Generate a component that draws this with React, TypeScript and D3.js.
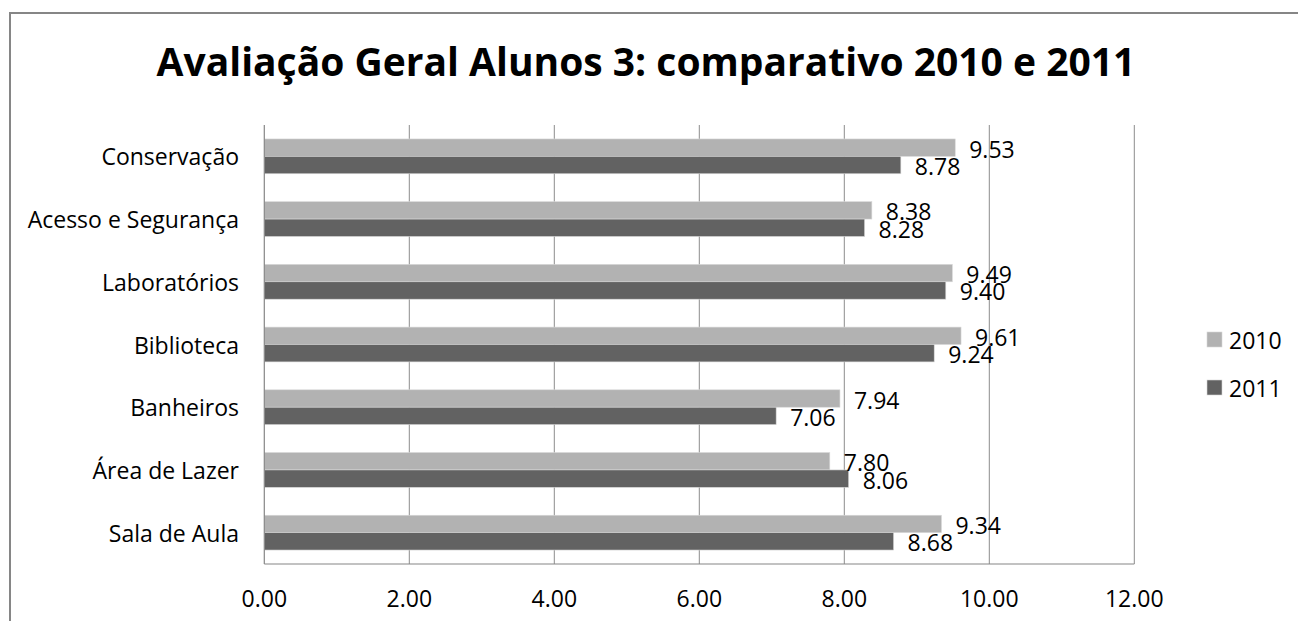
import React from "react";
import * as d3 from "d3";

const categories = [
  "Conservação",
  "Acesso e Segurança",
  "Laboratórios",
  "Biblioteca",
  "Banheiros",
  "Área de Lazer",
  "Sala de Aula",
];
const values2010 = [9.53, 8.38, 9.49, 9.61, 7.94, 7.8, 9.34];
const values2011 = [8.78, 8.28, 9.4, 9.24, 7.06, 8.06, 8.68];
const seriesNames = ["2010", "2011"];
const xTicks = [0, 2, 4, 6, 8, 10, 12];
const title = "Avaliação Geral Alunos 3: comparativo 2010 e 2011";

const W = 1298;
const H = 621;
const FONT = "'Open Sans', 'Noto Sans', sans-serif";
const colors = ["#B2B2B2", "#626262"];

export default function App() {
  const plot = { left: 264.3, right: 1134.3, top: 125, bottom: 564 };
  const x = d3.scaleLinear().domain([0, 12]).range([plot.left, plot.right]);
  const y = d3
    .scaleBand<string>()
    .domain(categories)
    .range([plot.top, plot.bottom])
    .paddingInner(0.445)
    .paddingOuter(0.2225);
  const inner = d3
    .scaleBand<string>()
    .domain(seriesNames)
    .range([0, y.bandwidth()]);
  const series = [values2010, values2011];

  return (
    <svg
      width={W}
      height={H}
      style={{ position: "absolute", left: 0, top: 0, background: "#fff" }}
      fontFamily={FONT}
    >
      <rect x={0} y={0} width={W} height={H} fill="#fff" />
      <rect
        x={10}
        y={13}
        width={W + 20}
        height={H + 20}
        fill="#fff"
        stroke="#868686"
        strokeWidth={2}
      />
      <text
        x={646}
        y={76}
        textAnchor="middle"
        fontSize={39}
        fontWeight="bold"
        fill="#000"
      >
        {title}
      </text>

      {/* gridlines */}
      {xTicks.slice(1).map((t) => (
        <line
          key={"g" + t}
          x1={x(t)}
          x2={x(t)}
          y1={plot.top}
          y2={plot.bottom}
          stroke="#8c8c8c"
          strokeWidth={1}
        />
      ))}

      {/* bars */}
      {series.map((vals, si) =>
        vals.map((v, i) => {
          const yy = (y(categories[i]) as number) + (inner(seriesNames[si]) as number);
          return (
            <rect
              key={`b${si}-${i}`}
              x={x(0)}
              y={yy}
              width={x(v) - x(0)}
              height={inner.bandwidth()}
              fill={colors[si]}
              stroke="#d8d8d8"
              strokeWidth={0.6}
            />
          );
        })
      )}

      {/* axes */}
      <line x1={x(0)} x2={x(0)} y1={plot.top} y2={plot.bottom} stroke="#868686" strokeWidth={1.2} />
      <line x1={x(0)} x2={x(12)} y1={plot.bottom} y2={plot.bottom} stroke="#868686" strokeWidth={1.2} />

      {/* data labels */}
      {series.map((vals, si) =>
        vals.map((v, i) => {
          const yy =
            (y(categories[i]) as number) +
            (inner(seriesNames[si]) as number) +
            inner.bandwidth() / 2 + 1;
          return (
            <text
              key={`l${si}-${i}`}
              x={x(v) + 14}
              y={yy}
              dominantBaseline="central"
              fontSize={23}
              fill="#000"
            >
              {d3.format(".2f")(v)}
            </text>
          );
        })
      )}

      {/* category labels */}
      {categories.map((c) => (
        <text
          key={"c" + c}
          x={239}
          y={(y(c) as number) + y.bandwidth() / 2}
          textAnchor="end"
          dominantBaseline="central"
          fontSize={23}
          fill="#000"
        >
          {c}
        </text>
      ))}

      {/* x tick labels */}
      {xTicks.map((t) => (
        <text
          key={"t" + t}
          x={x(t)}
          y={598}
          textAnchor="middle"
          dominantBaseline="central"
          fontSize={23}
          fill="#000"
        >
          {d3.format(".2f")(t)}
        </text>
      ))}

      {/* legend */}
      {seriesNames.map((s, si) => (
        <g key={"lg" + s}>
          <rect x={1207} y={332 + si * 48} width={15} height={15} fill={colors[si]} stroke="#d8d8d8" strokeWidth={0.6} />
          <text x={1229} y={340 + si * 48} dominantBaseline="central" fontSize={23} fill="#000">
            {s}
          </text>
        </g>
      ))}
    </svg>
  );
}
